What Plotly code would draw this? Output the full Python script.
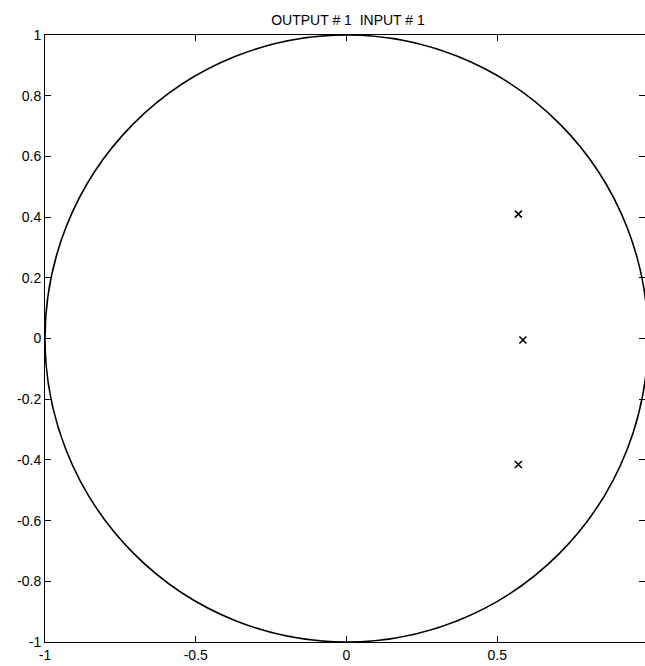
import plotly.graph_objects as go

# Pole locations (real, imaginary)
pole_re = [0.57, 0.585, 0.57]
pole_im = [0.41, -0.005, -0.415]

x_ticks = [-1, -0.5, 0, 0.5]
y_ticks = [-1, -0.8, -0.6, -0.4, -0.2, 0, 0.2, 0.4, 0.6, 0.8, 1]
title_text = "OUTPUT # 1  INPUT # 1"

font_family = "Liberation Sans, Arial, Helvetica, sans-serif"

fig = go.Figure()

fig.add_trace(go.Scatter(
    x=pole_re, y=pole_im, mode="markers",
    marker=dict(symbol="x-thin", size=7, color="black",
                line=dict(width=1.6, color="black")),
    showlegend=False, hoverinfo="x+y",
))

# invisible trace so the right-hand tick axis is rendered
fig.add_trace(go.Scatter(x=[None], y=[None], yaxis="y2", showlegend=False))

# unit circle
fig.add_shape(type="circle", xref="x", yref="y", x0=-1, y0=-1, x1=1, y1=1,
              line=dict(color="black", width=1.6), layer="above")

axis_common = dict(
    showgrid=False, zeroline=False, showline=True, linecolor="black",
    linewidth=1, ticks="inside", ticklen=6, tickwidth=1, tickcolor="black",
    tickfont=dict(family=font_family, size=14, color="black"),
)

fig.update_layout(
    width=645, height=666,
    margin=dict(l=45, r=0, t=35, b=24),
    paper_bgcolor="white", plot_bgcolor="white",
    title=dict(text=title_text, x=348 / 645, xref="container", xanchor="center",
               y=1 - 20 / 666, yref="container", yanchor="middle",
               font=dict(family=font_family, size=14, color="black")),
    xaxis=dict(range=[-1, 0.99], tickvals=x_ticks,
               ticktext=[f"{v:g}" for v in x_ticks], mirror="ticks",
               **axis_common),
    yaxis=dict(range=[-1, 1], tickvals=y_ticks,
               ticktext=[f"{v:g}" for v in y_ticks], **axis_common),
    yaxis2=dict(range=[-1, 1], overlaying="y", side="right", showgrid=False,
                zeroline=False, showline=False, showticklabels=False,
                ticks="inside", ticklen=6, tickwidth=1, tickcolor="black",
                tickvals=y_ticks),
)

fig.write_html("out.html")
